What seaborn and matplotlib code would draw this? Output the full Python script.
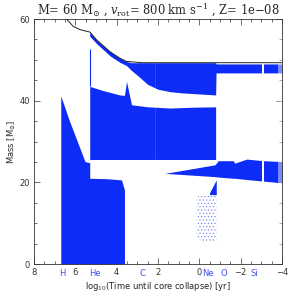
import numpy as np
import matplotlib
matplotlib.use("Agg")
import matplotlib.pyplot as plt
import seaborn as sns
from matplotlib.ticker import MultipleLocator

# ── data ──────────────────────────────────────────────────────────────────────
surface_x = [6.75, 6.42, 6.10, 5.77, 5.29, 4.97, 4.32, 3.84, 3.52, 2.73, -4.0]
surface_m = [62.0, 60.0, 58.2, 57.4, 56.8, 54.9, 52.0, 50.4, 49.6, 49.3, 49.3]

# convective H core
hcore_x   = [6.70, 6.30, 5.93, 5.53, 5.30, 5.30, 4.50, 3.76, 3.62]
hcore_top = [41.2, 35.3, 30.4, 25.1, 24.8, 21.0, 20.9, 20.6, 18.1]

# intermediate shell
shell_x   = [5.30, 4.60, 3.84, 3.62, 3.52, 3.28, 2.50, 1.42, 0.30, -0.79]
shell_top = [43.5, 42.4, 41.4, 41.3, 44.7, 39.0, 38.5, 38.2, 38.4, 38.5]
shell_bot = 25.6
spike_x, spike_top = 5.30, 52.7

# outer envelope
env_x   = [5.30, 4.97, 4.32, 3.84, 3.52, 3.30, 2.90, 2.50, 2.00, 1.40, 0.80, -0.79, -0.81, -4.0]
env_top = [56.8, 54.9, 52.0, 50.4, 49.6, 49.3, 49.3, 49.3, 49.3, 49.3, 49.3, 49.3, 49.0, 49.0]
env_bot = [55.8, 54.0, 51.0, 49.4, 48.6, 47.5, 45.8, 44.0, 42.8, 42.2, 41.9, 41.4, 46.8, 46.8]

# lower shell wedge
wedge_x   = [1.66, -0.76, -0.92, -1.64, -1.72, -2.29, -3.10, -4.0]
wedge_top = [22.2, 24.3, 25.3, 25.3, 24.7, 25.7, 25.3, 25.1]
wedge_bot = [22.2, 21.4, 21.3, 21.0, 21.0, 20.7, 20.3, 19.9]

# late core (dotted) and its solid tip
late_x   = [0.12, -0.30, -0.82]
late_top = [16.5, 17.0, 17.5]
late_bot = [6.5, 5.3, 5.5]
tip_x   = [-0.50, -0.82]
tip_top = [17.5, 20.6]
tip_bot = [17.0, 17.0]

burn_labels = ['H', 'He', 'C', 'Ne', 'O', 'Si']
burn_x      = [6.64, 5.05, 2.73, -0.40, -1.20, -2.65]

BLUE = '#0d2cf7'
LBL  = '#3d50e8'

# ── figure ────────────────────────────────────────────────────────────────────
sns.set_style("ticks")
plt.rcParams['font.family'] = ['DejaVu Sans']
plt.rcParams['mathtext.fontset'] = 'dejavuserif'
plt.rcParams['hatch.linewidth'] = 0.4
fig = plt.figure(figsize=(3.0, 2.97), dpi=100)
ax = fig.add_axes([0.113, 0.111, 0.827, 0.825])

ax.fill_between(hcore_x, hcore_top, 0, color=BLUE, lw=0)
ax.fill_between(shell_x, shell_top, shell_bot, color=BLUE, lw=0)
ax.vlines(spike_x, shell_top[0], spike_top, color=BLUE, lw=0.8)
ax.fill_between(env_x, env_top, env_bot, color=BLUE, lw=0)
ax.fill_between(wedge_x, wedge_top, wedge_bot, color=BLUE, lw=0)
ax.fill_between(late_x, late_top, late_bot, facecolor='none', edgecolor=BLUE,
                hatch='.....', lw=0, alpha=0.6)
ax.fill_between(tip_x, tip_top, tip_bot, color=BLUE, lw=0)

# gap and faded edge near collapse
ax.axvspan(-3.05, -3.12, color='white', lw=0)
ax.axvspan(-3.82, -4.0, color='white', alpha=0.45, lw=0)
ax.axvline(2.15, color='white', alpha=0.15, lw=0.6)

sns.lineplot(x=surface_x, y=surface_m, ax=ax, color='#222222', lw=0.7,
             sort=False, estimator=None)

for lab, xb in zip(burn_labels, burn_x):
    ax.text(xb, -0.037, lab, color=LBL, fontsize=6, ha='center', va='center',
            transform=ax.get_xaxis_transform())

ax.set_xlim(8, -4)
ax.set_ylim(0, 60)
ax.xaxis.set_major_locator(MultipleLocator(2))
ax.xaxis.set_minor_locator(MultipleLocator(0.5))
ax.yaxis.set_major_locator(MultipleLocator(20))
ax.yaxis.set_minor_locator(MultipleLocator(5))
ax.tick_params(which='both', direction='in', top=True, right=True,
               labelsize=6, width=0.5, colors='#333333', pad=3)
ax.tick_params(which='major', length=4)
ax.tick_params(which='minor', length=2)
for s in ax.spines.values():
    s.set_linewidth(0.6)
    s.set_color('#333333')

ax.set_xlabel(r'log$_{10}$(Time until core collapse) [yr]', fontsize=6, labelpad=2)
ax.set_ylabel(r'Mass [M$_{\odot}$]', fontsize=6, labelpad=1)
ax.set_title(r'M= 60 M$_{\odot}$ , $v_{\rm rot}$= 800 km s$^{-1}$ , Z= 1e$-$08',
             fontsize=8.3, family='DejaVu Serif', pad=3)

fig.savefig('out.png', dpi=100)
